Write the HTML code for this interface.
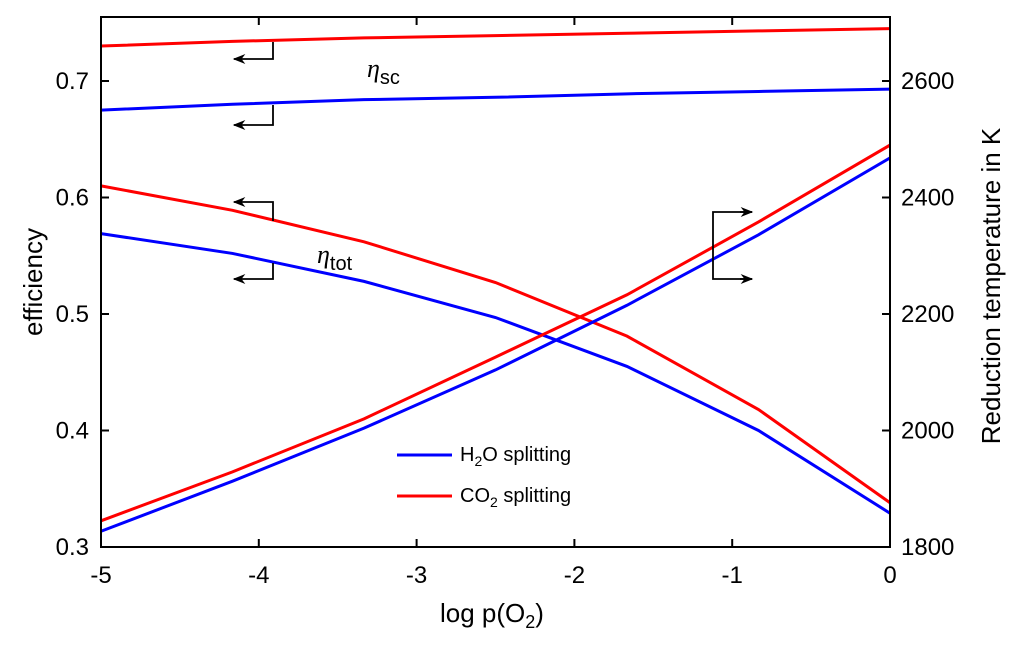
<!DOCTYPE html>
<html><head><meta charset="utf-8"><style>
body{margin:0;background:#fff}
svg{display:block;font-family:"Liberation Sans",Arial,sans-serif}
</style></head><body>
<svg id="chart" width="1024" height="646" viewBox="0 0 1024 646">
<defs><marker id="ah" viewBox="0 0 10 10" refX="9" refY="5" markerWidth="7" markerHeight="7" orient="auto"><path d="M0,1 L10,5 L0,9 L3,5 Z" fill="#000"/></marker></defs>
<g id="plot"></g>
</svg>
<script>
const xVals=[-5,-4.1667,-3.3333,-2.5,-1.6667,-0.8333,0];
const etaTotH2O=[0.569,0.552,0.528,0.497,0.455,0.400,0.329];
const etaTotCO2=[0.610,0.589,0.562,0.527,0.481,0.418,0.338];
const tempH2O=[1827,1913,2004,2104,2215,2336,2468];
const tempCO2=[1845,1929,2020,2126,2233,2358,2490];
const etaScH2O=[0.675,0.680,0.684,0.686,0.689,0.691,0.693];
const etaScCO2=[0.730,0.734,0.737,0.739,0.741,0.743,0.745];
const xTicks=[-5,-4,-3,-2,-1,0];
const yTicks=[0.3,0.4,0.5,0.6,0.7];
const y2Ticks=[1800,2000,2200,2400,2600];
const L=101,R=890,T=17,B=547;
const sx=v=>L+(v+5)/5*(R-L);
const sy=v=>B-(v-0.3)/0.1*116.5;
const sy2=v=>B-(v-1800)/200*116.5;
const ns="http://www.w3.org/2000/svg";
const g=document.getElementById('plot');
function mk(t,a,p){const e=document.createElementNS(ns,t);for(const k in a)e.setAttribute(k,a[k]);(p||g).appendChild(e);return e;}
function line(vals,f,color,name){
 const e=mk('polyline',{points:vals.map((v,i)=>sx(xVals[i])+','+f(v)).join(' '),fill:'none',stroke:color,'stroke-width':3});
 
 
}
line(etaScCO2,sy,'#f00','eta-sc-co2-line');
line(etaScH2O,sy,'#00f','eta-sc-h2o-line');
line(etaTotCO2,sy,'#f00','eta-tot-co2-line');
line(etaTotH2O,sy,'#00f','eta-tot-h2o-line');
line(tempCO2,sy2,'#f00','temp-co2-line');
line(tempH2O,sy2,'#00f','temp-h2o-line');
// axes box
const box=mk('rect',{x:L,y:T,width:R-L,height:B-T,fill:'none',stroke:'#000','stroke-width':2});


xTicks.forEach(v=>{
 mk('line',{x1:sx(v),x2:sx(v),y1:B,y2:B-8,stroke:'#000','stroke-width':2});
 mk('line',{x1:sx(v),x2:sx(v),y1:T,y2:T+8,stroke:'#000','stroke-width':2});
 const t=mk('text',{x:sx(v),y:B+36,'text-anchor':'middle','font-size':24});t.textContent=v;
 
 
});
yTicks.forEach(v=>{
 mk('line',{x1:L,x2:L+8,y1:sy(v),y2:sy(v),stroke:'#000','stroke-width':2});
 const t=mk('text',{x:L-12,y:sy(v)+8,'text-anchor':'end','font-size':24});t.textContent=v.toFixed(1);
 
 
});
y2Ticks.forEach(v=>{
 mk('line',{x1:R,x2:R-8,y1:sy2(v),y2:sy2(v),stroke:'#000','stroke-width':2});
 const t=mk('text',{x:R+11,y:sy2(v)+8,'font-size':24});t.textContent=v;
 
 
});
// arrows
function arrow(x,y1,y2,x2){mk('polyline',{points:`${x},${y1} ${x},${y2} ${x2},${y2}`,fill:'none',stroke:'#000','stroke-width':1.8,'marker-end':'url(#ah)'});}
arrow(273,42,59,234);
arrow(273,105,125,234);
arrow(273,221,202,234);
arrow(273,263,279,234);
mk('polyline',{points:'752,212 713,212 713,279 752,279',fill:'none',stroke:'#000','stroke-width':1.8});
mk('line',{x1:740,y1:212,x2:752,y2:212,stroke:'#000','stroke-width':1.8,'marker-end':'url(#ah)'});
mk('line',{x1:740,y1:279,x2:752,y2:279,stroke:'#000','stroke-width':1.8,'marker-end':'url(#ah)'});
</script>
<svg width="1024" height="646" style="position:absolute;left:0;top:0" font-family="Liberation Sans,Arial,sans-serif">
<text x="367" y="77" font-size="26" font-style="italic" font-family="Liberation Serif,serif">η<tspan font-size="20" font-style="normal" font-family="Liberation Sans,sans-serif" dy="7">sc</tspan></text>
<text x="317" y="263" font-size="26" font-style="italic" font-family="Liberation Serif,serif">η<tspan font-size="20" font-style="normal" font-family="Liberation Sans,sans-serif" dy="7">tot</tspan></text>
<g>
<line x1="397" y1="455" x2="452" y2="455" stroke="#00f" stroke-width="3"/>
<text x="460" y="461" font-size="20">H<tspan font-size="14" dy="5">2</tspan><tspan dy="-5">O splitting</tspan></text>
<line x1="397" y1="496" x2="452" y2="496" stroke="#f00" stroke-width="3"/>
<text x="460" y="502" font-size="20">CO<tspan font-size="14" dy="5">2</tspan><tspan dy="-5"> splitting</tspan></text>
</g>
<text x="440" y="622" font-size="26">log p(O<tspan font-size="18" dy="6">2</tspan><tspan dy="-6">)</tspan></text>
<text transform="translate(42,282) rotate(-90)" text-anchor="middle" font-size="26">efficiency</text>
<text transform="translate(1000,286) rotate(-90)" text-anchor="middle" font-size="26">Reduction temperature in K</text>
</svg>
</body></html>
